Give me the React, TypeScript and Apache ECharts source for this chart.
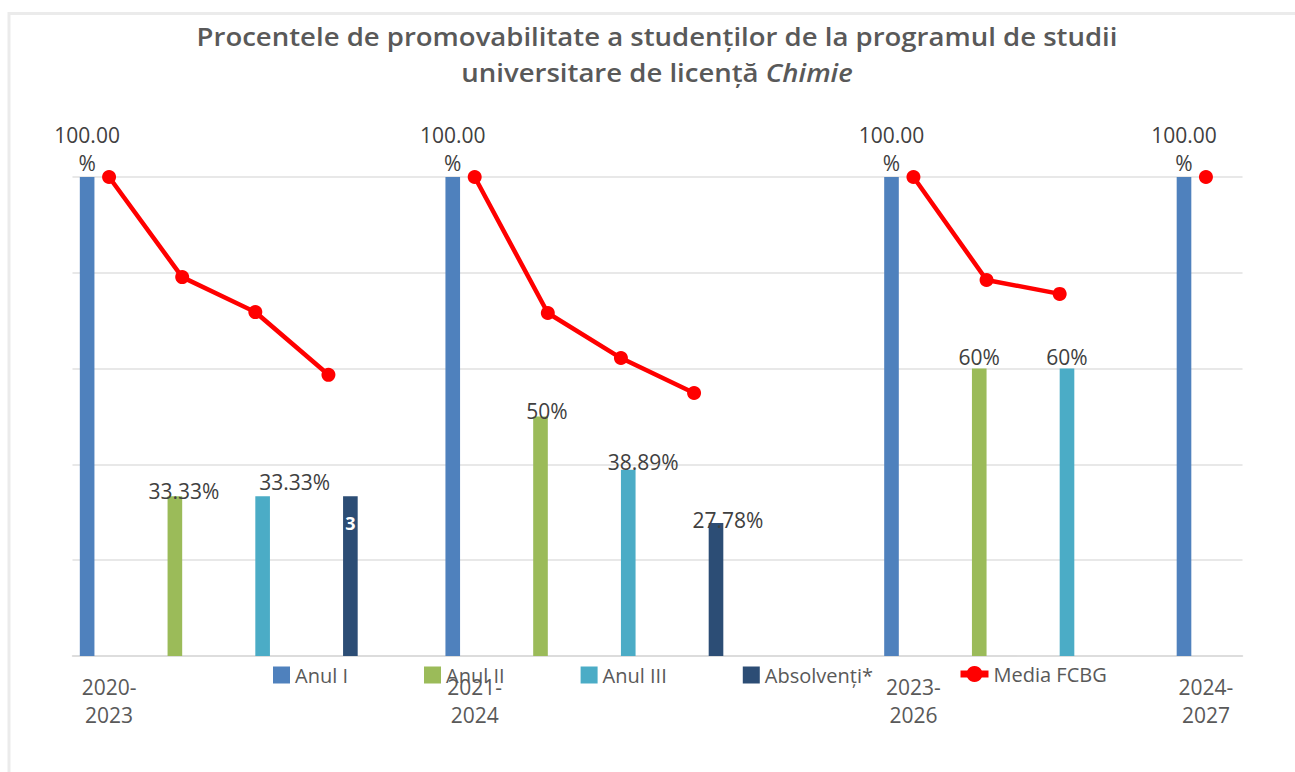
import React, { useEffect, useRef } from "react";
import * as echarts from "echarts";

const categories = ["2020-2023", "", "", "", "", "2021-2024", "", "", "", "", "", "2023-2026", "", "", "", "2024-2027"];
const anulI = [100, null, null, null, null, 100, null, null, null, null, null, 100, null, null, null, 100];
const anulII = [null, 33.33, null, null, null, null, 50, null, null, null, null, null, 60, null, null, null];
const anulIII = [null, null, 33.33, null, null, null, null, 38.89, null, null, null, null, null, 60, null, null];
const absolventi = [null, null, null, 33.33, null, null, null, null, 27.78, null, null, null, null, null, null, null];
const mediaFCBG = [100, 79.1, 71.8, 58.7, null, 100, 71.6, 62.2, 54.9, null, null, 100, 78.5, 75.6, null, 100];

const titleLine1 = "Procentele de promovabilitate a studenților de la programul de studii";
const titleLine2a = "universitare de licență ";
const titleLine2b = "Chimie";

// label offsets (style), keyed by category index
const labelOffsets: Record<number, [number, number]> = {
  1: [9, 5.5],
  2: [32, -3.5],
  6: [6.5, 5],
  7: [15, 3],
  8: [12, 7.5],
  12: [0, -1],
  13: [0, -1],
};

const FONT = '"Open Sans", "Noto Sans", sans-serif';

function pctLabel(v: number): string {
  if (v === 100) return "100.00\n%";
  return Number.isInteger(v) ? `${v}%` : `${v.toFixed(2)}%`;
}

function buildBarData(values: (number | null)[], hiddenWhite?: number) {
  return values.map((v, i) => {
    if (v == null) return null;
    if (hiddenWhite === i) {
      return {
        value: v,
        label: {
          position: "insideTop",
          distance: 0,
          offset: [0, 16],
          color: "#ffffff",
          fontWeight: "bold",
          fontSize: 18,
          formatter: "3",
        },
      };
    }
    const off = labelOffsets[i];
    return off ? { value: v, label: { offset: off } } : { value: v };
  });
}

function measure(text: string, font: string): number {
  const ctx = document.createElement("canvas").getContext("2d");
  if (!ctx) return text.length * 13;
  ctx.font = font;
  return ctx.measureText(text).width;
}

export default function App() {
  const ref = useRef<HTMLDivElement>(null);

  useEffect(() => {
    if (!ref.current) return;
    const chart = echarts.init(ref.current, undefined, { renderer: "svg" });

    const titleFont = `600 26px "Open Sans"`;
    const w1 = measure(titleLine1, titleFont);
    const titleScale = w1 > 0 ? 921 / w1 : 1;

    const barLabel = {
      show: true,
      position: "top",
      distance: 0,
      fontSize: 21,
      lineHeight: 21,
      color: "#404040",
      fontFamily: FONT,
      formatter: (p: any) => pctLabel(Number(p.value)),
    };

    const barCommon = {
      type: "bar",
      barGap: "0%",
      barCategoryGap: "20%",
      label: barLabel,
    };

    const option: any = {
      animation: false,
      textStyle: { fontFamily: FONT },
      graphic: [
        {
          type: "rect",
          silent: true,
          shape: { x: 9, y: 13.5, width: 1320, height: 800 },
          style: { fill: "none", stroke: "#ebebeb", lineWidth: 3 },
          z: -10,
        },
        {
          type: "text",
          x: 657,
          y: 36,
          scaleX: titleScale,
          style: {
            text: titleLine1,
            font: titleFont,
            fill: "#595959",
            textAlign: "center",
            textVerticalAlign: "middle",
          },
        },
        {
          type: "text",
          x: 657,
          y: 72,
          scaleX: titleScale,
          style: {
            text: `{n|${titleLine2a}}{i|${titleLine2b}}`,
            fill: "#595959",
            textAlign: "center",
            textVerticalAlign: "middle",
            rich: {
              n: { fontFamily: '"Open Sans"', fontSize: 26, fontWeight: 600, fill: "#595959", color: "#595959" },
              i: { fontFamily: '"Open Sans"', fontSize: 26, fontWeight: 600, fontStyle: "italic", fill: "#595959", color: "#595959" },
            },
          },
        },
      ],
      legend: [
        {
          data: ["Anul I", "Anul II", "Anul III", "Absolvenți*"],
          left: 273,
          top: 665,
          padding: 0,
          icon: "rect",
          itemWidth: 17,
          itemHeight: 17,
          itemGap: 76,
          textStyle: { fontSize: 20, lineHeight: 20, color: "#595959", fontFamily: FONT },
        },
        {
          data: ["Media FCBG"],
          left: 957,
          top: 664,
          padding: 0,
          itemWidth: 28,
          itemHeight: 20,
          lineStyle: { width: 7 },
          textStyle: { fontSize: 20, lineHeight: 20, color: "#595959", fontFamily: FONT },
        },
      ],
      grid: { left: 72.5, right: 52.5, top: 177, bottom: 116, containLabel: false },
      xAxis: {
        type: "category",
        data: categories,
        axisLine: { show: true, lineStyle: { color: "#d9d9d9", width: 1.5 } },
        axisTick: { show: false },
        axisLabel: {
          interval: 0,
          margin: 17,
          fontSize: 21,
          lineHeight: 28,
          color: "#595959",
          fontFamily: FONT,
          formatter: (v: string) => v.replace("-", "-\n"),
        },
      },
      yAxis: {
        type: "value",
        min: 0,
        max: 100,
        interval: 20,
        axisLabel: { show: false },
        axisLine: { show: false },
        axisTick: { show: false },
        splitLine: { lineStyle: { color: "#e0e0e0", width: 1.5 } },
      },
      series: [
        {
          ...barCommon,
          name: "Anul I",
          data: buildBarData(anulI),
          itemStyle: { color: "#4F81BD" },
          label: { ...barLabel, lineHeight: 28 },
        },
        {
          ...barCommon,
          name: "Anul II",
          data: buildBarData(anulII),
          itemStyle: { color: "#9BBB59" },
        },
        {
          ...barCommon,
          name: "Anul III",
          data: buildBarData(anulIII),
          itemStyle: { color: "#4BACC6" },
        },
        {
          ...barCommon,
          name: "Absolvenți*",
          data: buildBarData(absolventi, 3),
          itemStyle: { color: "#2C4D75" },
        },
        {
          type: "line",
          name: "Media FCBG",
          data: mediaFCBG,
          connectNulls: false,
          symbol: "circle",
          symbolSize: 14,
          showAllSymbol: true,
          lineStyle: { color: "#FF0000", width: 4.5 },
          itemStyle: { color: "#FF0000" },
          z: 5,
        },
      ],
    };

    chart.setOption(option);
    return () => chart.dispose();
  }, []);

  return (
    <div
      ref={ref}
      style={{ position: "fixed", left: 0, top: 0, width: 1295, height: 772, background: "#ffffff" }}
    />
  );
}
